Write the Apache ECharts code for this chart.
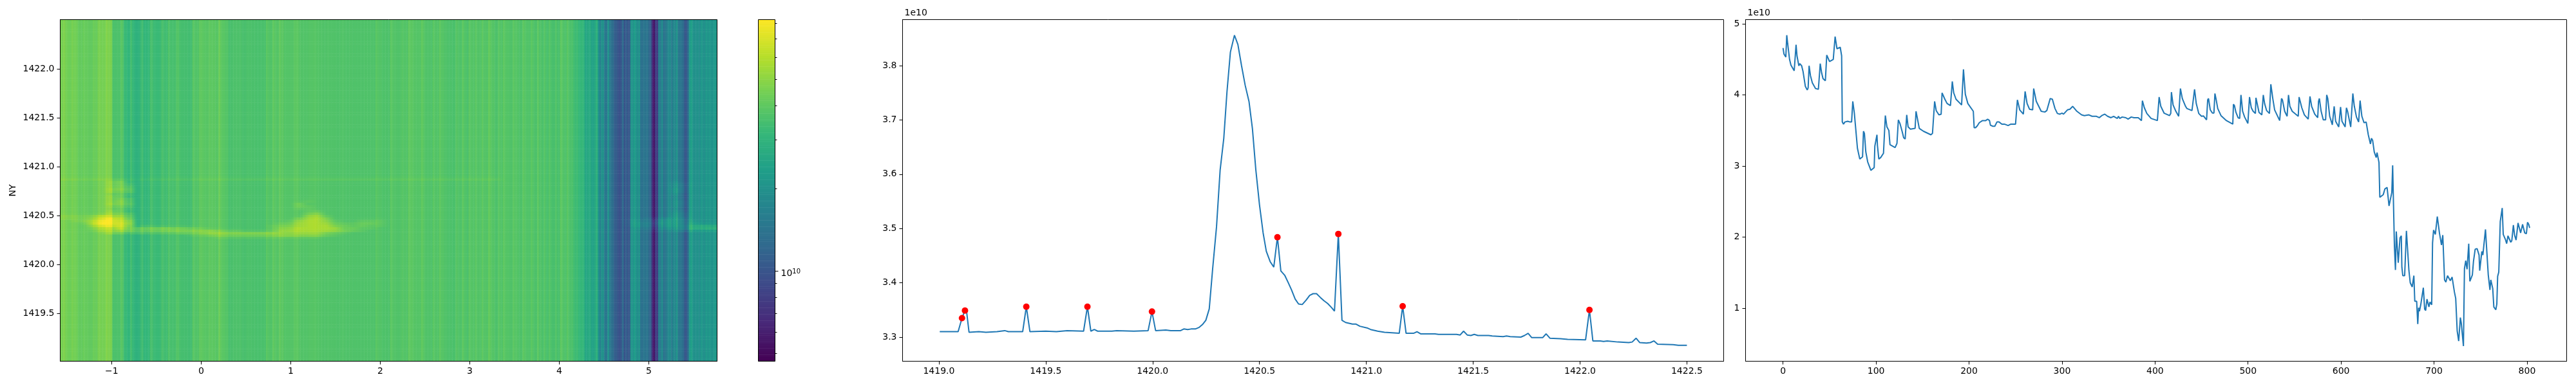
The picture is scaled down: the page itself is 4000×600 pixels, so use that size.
<!DOCTYPE html>
<html>
<head>
<meta charset="utf-8">
<style>html,body{margin:0;padding:0;background:#fff}#c{width:4000px;height:600px}</style>
<script src="https://cdn.jsdelivr.net/npm/echarts@6/dist/echarts.min.js"></script>
</head>
<body>
<div id="c"></div>
<script>
/* ---------- values ---------- */
const heatXTicks = [-1, 0, 1, 2, 3, 4, 5];
const nyTicks = [1419.5, 1420, 1420.5, 1421, 1421.5, 1422];
const spectrumXTicks = [1419, 1419.5, 1420, 1420.5, 1421, 1421.5, 1422, 1422.5];
const spectrumYTicks = [3.3, 3.4, 3.5, 3.6, 3.7, 3.8];
const indexXTicks = [0, 100, 200, 300, 400, 500, 600, 700, 800];
const indexYTicks = [1, 2, 3, 4, 5];
const colorbarMinorTicks = [5e9, 6e9, 7e9, 8e9, 9e9, 2e10, 3e10, 4e10, 5e10, 6e10, 7e10, 8e10];
const colorbarMajorTicks = [1e10];

/* middle panel: [NY, value in 1e10] */
const spectrum = [[1419.004,3.31],[1419.09,3.31],[1419.108,3.335],[1419.122,3.349],[1419.129,3.349],[1419.141,3.309],[1419.187,3.31],[1419.22,3.309],[1419.272,3.31],[1419.308,3.312],[1419.325,3.31],[1419.392,3.31],[1419.409,3.356],[1419.426,3.31],[1419.5,3.311],[1419.55,3.31],[1419.6,3.312],[1419.677,3.311],[1419.695,3.356],[1419.711,3.311],[1419.727,3.314],[1419.743,3.311],[1419.809,3.311],[1419.832,3.312],[1419.912,3.311],[1419.979,3.312],[1419.997,3.347],[1420.014,3.312],[1420.062,3.313],[1420.085,3.312],[1420.131,3.312],[1420.146,3.315],[1420.164,3.314],[1420.18,3.315],[1420.2,3.315],[1420.218,3.318],[1420.233,3.323],[1420.249,3.331],[1420.265,3.352],[1420.281,3.426],[1420.299,3.503],[1420.316,3.608],[1420.333,3.666],[1420.348,3.752],[1420.364,3.825],[1420.383,3.856],[1420.399,3.839],[1420.416,3.8],[1420.433,3.764],[1420.451,3.734],[1420.467,3.684],[1420.483,3.608],[1420.5,3.544],[1420.517,3.492],[1420.532,3.458],[1420.55,3.439],[1420.567,3.429],[1420.584,3.484],[1420.6,3.422],[1420.618,3.414],[1420.635,3.4],[1420.65,3.387],[1420.667,3.37],[1420.683,3.361],[1420.7,3.36],[1420.718,3.368],[1420.735,3.377],[1420.751,3.38],[1420.767,3.38],[1420.785,3.373],[1420.802,3.367],[1420.819,3.362],[1420.836,3.355],[1420.851,3.348],[1420.869,3.49],[1420.886,3.331],[1420.903,3.327],[1420.935,3.324],[1420.952,3.324],[1420.97,3.32],[1421.003,3.317],[1421.02,3.314],[1421.053,3.311],[1421.085,3.309],[1421.154,3.307],[1421.17,3.357],[1421.186,3.307],[1421.221,3.307],[1421.237,3.31],[1421.254,3.306],[1421.321,3.306],[1421.338,3.305],[1421.387,3.305],[1421.422,3.305],[1421.439,3.304],[1421.455,3.311],[1421.472,3.304],[1421.489,3.303],[1421.505,3.305],[1421.522,3.303],[1421.572,3.303],[1421.589,3.302],[1421.64,3.301],[1421.656,3.302],[1421.673,3.301],[1421.723,3.3],[1421.74,3.303],[1421.757,3.307],[1421.774,3.299],[1421.825,3.299],[1421.841,3.306],[1421.859,3.298],[1421.909,3.297],[1421.942,3.296],[1422.026,3.295],[1422.044,3.35],[1422.06,3.293],[1422.095,3.293],[1422.11,3.292],[1422.127,3.293],[1422.177,3.291],[1422.228,3.29],[1422.244,3.291],[1422.262,3.298],[1422.279,3.29],[1422.311,3.289],[1422.329,3.29],[1422.346,3.293],[1422.363,3.287],[1422.436,3.286],[1422.46,3.285],[1422.5,3.285]];

const peaks = [[1419.108,3.335],[1419.122,3.349],[1419.409,3.356],[1419.695,3.356],[1419.997,3.347],[1420.584,3.484],[1420.869,3.49],[1421.17,3.357],[1422.044,3.35]];

/* right panel: [index, value in 1e10] */
const profile = [[0,4.66],[1,4.575],[3,4.533],[4,4.84],[5,4.72],[7,4.5],[8.5,4.42],[12,4.34],[14,4.706],[15,4.55],[17,4.41],[18,4.44],[20,4.41],[21.5,4.33],[24,4.12],[26,4.07],[27,4.1],[28,4.41],[29.5,4.27],[31.5,4.17],[35,4.09],[38,4.08],[40,4.44],[41.5,4.31],[43,4.23],[45.5,4.2],[47,4.56],[48,4.56],[50,4.47],[54,4.5],[56,4.82],[58,4.65],[61.5,4.67],[63,4.55],[63.7,3.62],[65,3.59],[66.5,3.62],[69.5,3.63],[70.5,3.645],[72,3.62],[73.7,3.62],[75,3.91],[76.7,3.74],[80,3.25],[82.5,3.1],[85.5,3.13],[86.5,3.49],[87.5,3.46],[89,3.2],[91,3.06],[94.5,2.94],[98,2.98],[98.7,3.28],[99.7,3.28],[101,3.44],[101.5,3.29],[103,3.1],[105,3.12],[108,3.18],[110,3.71],[111.7,3.55],[113.8,3.5],[115,3.3],[120.5,3.26],[122.5,3.32],[124,3.65],[125.7,3.6],[128,3.49],[129.7,3.4],[131.3,3.38],[133,3.72],[134.5,3.55],[137,3.52],[142,3.53],[143,3.77],[144,3.77],[146.5,3.53],[151,3.49],[159,3.44],[160.7,3.46],[163,3.91],[164.7,3.78],[167.6,3.72],[170,3.73],[171,4.03],[172,4.03],[174,3.94],[176.4,3.88],[180,3.85],[182,4.19],[183.5,4.03],[186,3.94],[192,3.86],[194,4.36],[196,4.01],[198.7,3.88],[204.6,3.77],[205.5,3.54],[207,3.54],[208.8,3.565],[211,3.61],[214.5,3.64],[218,3.64],[220,3.66],[222,3.64],[223,3.575],[225.6,3.56],[227.7,3.56],[230,3.62],[232.3,3.62],[235.3,3.59],[238,3.59],[242,3.57],[245,3.59],[250,3.59],[252,3.93],[254.5,3.79],[258.4,3.73],[260.3,4.05],[262.4,3.88],[265,3.8],[268.4,3.79],[269.5,4.09],[272.3,3.91],[277.6,3.77],[281.5,3.76],[283.6,3.78],[287.3,3.95],[289.6,3.94],[292.4,3.81],[295,3.74],[297.7,3.73],[300,3.745],[301.6,3.73],[305.8,3.79],[308.5,3.8],[311.5,3.84],[316,3.77],[321,3.72],[324,3.71],[328.9,3.72],[332.3,3.7],[337,3.7],[340,3.68],[342.7,3.71],[346,3.73],[349,3.7],[352.6,3.68],[355.5,3.7],[359.4,3.67],[360.7,3.7],[362,3.67],[364.7,3.69],[368.6,3.68],[371,3.66],[374.4,3.69],[377.4,3.68],[382,3.68],[385.4,3.64],[386.4,3.92],[387.3,3.93],[388.5,3.82],[391.2,3.74],[395.8,3.67],[402.5,3.64],[404.4,3.97],[406.2,3.84],[409.7,3.745],[415.5,3.71],[416.9,3.74],[417.6,4.04],[419.4,3.86],[422.4,3.77],[425.4,3.7],[427.3,4.09],[429.3,3.95],[432.8,3.84],[434.2,3.81],[439.7,3.78],[440.9,3.79],[442.5,4.08],[444.3,3.88],[447,3.74],[450,3.7],[452,3.705],[455.4,3.65],[456.6,3.93],[457.5,3.95],[459.4,3.79],[461.7,3.745],[463.3,3.745],[464.4,4.02],[465.8,3.93],[467.4,3.81],[470.9,3.71],[476.7,3.64],[483.6,3.59],[484.3,3.87],[485.4,3.85],[487,3.755],[489.3,3.68],[491,3.67],[492.4,4.0],[494.2,3.77],[496.3,3.69],[499.8,3.6],[501.6,3.97],[503.5,3.82],[505.5,3.77],[507.9,3.74],[508.5,3.96],[509.7,3.95],[511.8,3.755],[514.8,3.72],[516.4,4.0],[517.8,3.88],[520,3.78],[523,3.74],[524.5,4.15],[526.6,3.95],[528.6,3.79],[534,3.64],[536,3.95],[537,3.93],[539.4,3.77],[542,3.7],[543.5,4.0],[545,3.84],[547.5,3.77],[554,3.7],[554.9,3.97],[556,3.98],[557.8,3.82],[560.6,3.72],[564.7,3.66],[566.6,3.98],[568.4,3.84],[571.7,3.73],[574.9,3.68],[575.8,3.91],[576.7,3.95],[578.6,3.77],[580.9,3.65],[583.4,3.65],[584.6,4.0],[585.7,3.95],[587.8,3.7],[590.6,3.58],[592.6,3.84],[594.2,3.63],[597.5,3.55],[599.5,3.83],[601,3.63],[604.4,3.55],[605.8,3.82],[607,3.77],[610.4,3.55],[612.7,4.02],[614.3,3.84],[616.6,3.69],[618.9,3.62],[620.5,3.92],[622.4,3.7],[624.7,3.61],[627,3.62],[629.3,3.44],[631.6,3.31],[632.7,3.39],[634,3.36],[635.7,3.2],[637.8,3.12],[638.7,3.19],[640.8,3.05],[641.7,2.56],[643,2.56],[645.4,2.6],[647.2,2.68],[649.5,2.7],[651.6,2.44],[652.8,2.45],[654.6,2.63],[655.5,3.01],[656.7,3.01],[657.4,1.87],[658.5,1.54],[659.4,2.08],[661.5,1.64],[663.4,1.99],[664.8,2.02],[665.4,1.58],[666.4,1.46],[668.4,1.46],[670.3,2.09],[671.4,2.08],[673,1.53],[674.4,1.36],[676.5,1.3],[678.3,1.46],[679.3,1.1],[681.3,1.1],[682.5,0.78],[683.4,1.01],[684.3,0.96],[685.7,1.05],[686.9,1.06],[688.5,1.29],[689.9,0.99],[691,0.97],[692.4,1.13],[693.5,1.14],[694.5,1.02],[695.6,1.09],[697.5,1.05],[698.4,1.92],[699.5,2.1],[701.4,2.04],[703.5,2.29],[705.8,2.06],[708,1.89],[709.4,2.03],[711.3,1.4],[712.7,1.37],[714.5,1.46],[717.5,1.39],[719.4,1.44],[721.9,1.23],[723.3,1.14],[724.9,0.68],[726.5,0.54],[728.3,0.87],[729.3,0.79],[730.6,0.78],[731.6,0.47],[732.7,1.56],[734.1,1.67],[735.5,1.55],[737.3,1.91],[738.5,1.38],[741.2,1.47],[742.4,1.66],[743.5,1.65],[744.2,1.83],[746.3,1.84],[748.4,1.75],[749.1,1.53],[751.4,1.8],[752.5,1.75],[755.3,2.11],[758.3,1.47],[760.1,1.26],[761,1.4],[763.1,1.28],[764.3,1.02],[766.4,0.98],[767.5,1.06],[768.4,1.45],[769.6,1.51],[771.2,2.22],[773.3,2.41],[774.4,2.04],[776.7,1.97],[778.1,1.91],[779.5,2.02],[782.5,1.93],[783.6,1.95],[785.3,2.17],[786.6,2.03],[788.2,1.96],[790.3,2.2],[793.1,2.06],[795.2,2.18],[797.5,2.06],[799.3,2.05],[800.5,2.21],[801.8,2.18],[802.8,2.13]];

/* left panel: brightening above the column level, one row per NY value,
   one digit per 0.1 of the horizontal axis from -1.6 to 5.8 (each digit is 0.03 decades) */
const liftRowStart = 1420.25;
const liftRowStep = 0.025;
const liftColStart = -1.6;
const liftColStep = 0.1;
const liftRows = [
"0000000000 0000000000 0000000000 0000000000 0000000000 0000000000 0000000000 00000", /* 1420.250 */
"0000000000 0000000011 1111111111 0000000000 0000000000 0000000000 0000000000 00000",
"0000000000 0000011233 3333344444 2100000000 0000000000 0000000000 0000000000 00000",
"0000013323 2222333444 4444444555 3210000000 0000000000 0000000000 0000000000 00000",
"0000134654 4444443321 1000145666 6532100000 0000000000 0000000000 0000001112 32222", /* 1420.350 */
"0000245854 4443321000 0000134666 6522110000 0000000000 0000000000 0000012233 55555",
"0000478960 1000000000 0000123566 6321211000 0000000000 0000000000 0000123344 54433",
"0001699970 0000000000 0000012566 5211221000 0000000000 0000000000 0000123444 42000",
"0012589860 0000000000 0000001466 4100111000 0000000000 0000000000 0000112344 41000", /* 1420.450 */
"1111368740 0000000000 0000000256 3000000000 0000000000 0000000000 0000001124 30000",
"1111245530 0000000000 0000000045 1000000000 0000000000 0000000000 0000000003 20000",
"0000003320 0000000000 0000000023 0000000000 0000000000 0000000000 0000000003 20000",
"0000002200 0000000000 0000000011 0000000000 0000000000 0000000000 0000000002 10000", /* 1420.550 */
"0000001210 0000000000 0000000110 0000000000 0000000000 0000000000 0000000001 00000",
"0000002320 0000000000 0000000210 0000000000 0000000000 0000000000 0000000002 10000",
"0000003430 0000000000 0000000200 0000000000 0000000000 0000000000 0000000002 10000",
"0000002420 0000000000 0000000010 0000000000 0000000000 0000000000 0000000002 10000", /* 1420.650 */
"0000002320 0000000000 0000000000 0000000000 0000000000 0000000000 0000000001 00000",
"0000002200 0000000000 0000000000 0000000000 0000000000 0000000000 0000000001 00000",
"0000001210 0000000000 0000000000 0000000000 0000000000 0000000000 0000000002 00000",
"0000003330 0000000000 0000000000 0000000000 0000000000 0000000000 0000000003 10000", /* 1420.750 */
"0000003430 0000000000 0000000000 0000000000 0000000000 0000000000 0000000003 10000",
"0000002320 0000000000 0000000000 0000000000 0000000000 0000000000 0000000002 10000",
"0000002310 0000000000 0000000000 0000000000 0000000000 0000000000 0000000002 10000",
"0000002300 0000000000 0000000000 0000000000 0000000000 0000000000 0000000001 00000", /* 1420.850 */
"1111111111 1111111111 1111111111 1111111111 1111111111 0000000000 0000000000 00000",
"0000000000 0000000000 0000000000 0000000000 0000000000 0000000000 0000000000 00000"
];
const liftPerDigit = 0.03;

/* ---------- ranges and styling ---------- */
const heatX = [-1.574, 5.762], heatY = [1419.009, 1422.506];
const logRange = [9.671, 10.916];
const viridis = ['#440154','#482878','#3e4989','#31688e','#26828e','#1f9e89','#35b779','#6ece58','#b5de2b','#fde725'];
const profileLength = 804, colBins = 402, rowBins = 140, rampSteps = 160;
const fontFamily = '"DejaVu Sans", sans-serif';
const text = {color:'#000', fontFamily, fontSize:14};

/* ---------- heat-map cells built from the arrays above ---------- */
function nearestProfile(idx){
  let best = profile[0];
  for (const p of profile) if (Math.abs(p[0]-idx) < Math.abs(best[0]-idx)) best = p;
  return best[1];
}
const liftGrid = liftRows.map(r => r.replace(/ /g,'').split('').map(Number));
function liftAt(x, y){
  const fy = (y-liftRowStart)/liftRowStep, fx = (x-liftColStart)/liftColStep;
  const r0 = Math.floor(fy), c0 = Math.floor(fx);
  if (r0 < 0 || r0 >= liftGrid.length-1) return 0;
  const c1 = Math.min(c0+1, liftGrid[0].length-1), ty = fy-r0, tx = fx-c0;
  const a = liftGrid[r0][c0]*(1-tx)+liftGrid[r0][c1]*tx;
  const b = liftGrid[r0+1][c0]*(1-tx)+liftGrid[r0+1][c1]*tx;
  return (a*(1-ty)+b*ty)*liftPerDigit;
}
const heatCells = [];
for (let c=0;c<colBins;c++){
  const idx = (c+0.5)*profileLength/colBins;
  const x = heatX[0]+(c+0.5)/colBins*(heatX[1]-heatX[0]);
  const base = Math.log10(nearestProfile(idx)*1e10);
  for (let r=0;r<rowBins;r++){
    const y = heatY[0]+(r+0.5)/rowBins*(heatY[1]-heatY[0]);
    const v = Math.min(logRange[1], Math.max(logRange[0], base+liftAt(x,y)));
    heatCells.push([c,r,v]);
  }
}
const rampCells = [];
for (let i=0;i<rampSteps;i++) rampCells.push([0,i,logRange[0]+(i+0.5)/rampSteps*(logRange[1]-logRange[0])]);
const seq = n => Array.from({length:n},(_,i)=>i);

/* ---------- axes ---------- */
const valueAxis = (min,max,ticks,fmt,extra) => Object.assign({
  type:'value', min, max, scale:true, z:6,
  splitLine:{show:false},
  axisLine:{show:true,onZero:false,lineStyle:{color:'#000',width:1}},
  axisTick:{show:true,inside:false,length:5,lineStyle:{color:'#000',width:1},customValues:ticks},
  axisLabel:Object.assign({margin:9,customValues:ticks,formatter:fmt},text)
},extra||{});
const fix1 = v => v.toFixed(1);
const int0 = v => String(Math.round(v)).replace('-','\u2212');
const hiddenCat = (n,gridIndex) => ({type:'category',gridIndex,show:false,data:seq(n),boundaryGap:true});
const name1e10 = {name:'1e10',nameLocation:'end',nameGap:3,nameTextStyle:{color:'#000',fontFamily,fontSize:14,align:'left',padding:[0,0,0,3]}};
const box = {show:true,backgroundColor:'transparent',borderColor:'#000',borderWidth:1,z:5};

const option = {
  animation:false,
  backgroundColor:'#fff',
  grid:[
    Object.assign({left:93.5,top:30.5,width:1020,height:531},box),
    Object.assign({left:1177.5,top:30.5,width:26,height:531},box),
    Object.assign({left:1401.5,top:30.5,width:1275,height:531},box),
    Object.assign({left:2710.5,top:30.5,width:1275,height:531},box)
  ],
  xAxis:[
    valueAxis(heatX[0],heatX[1],heatXTicks,int0,{gridIndex:0}),
    valueAxis(1418.83,1422.672,spectrumXTicks,fix1,{gridIndex:2}),
    valueAxis(-40.3,842.6,indexXTicks,int0,{gridIndex:3}),
    hiddenCat(colBins,0),
    hiddenCat(1,1)
  ],
  yAxis:[
    valueAxis(heatY[0],heatY[1],nyTicks,fix1,{gridIndex:0,name:'NY',nameLocation:'middle',nameGap:66,nameRotate:90,nameTextStyle:{color:'#000',fontFamily,fontSize:14}}),
    valueAxis(3.2556,3.8847,spectrumYTicks,fix1,Object.assign({gridIndex:2},name1e10)),
    valueAxis(0.2567,5.059,indexYTicks,int0,Object.assign({gridIndex:3},name1e10)),
    hiddenCat(rowBins,0),
    hiddenCat(rampSteps,1),
    /* colour bar scale: positions are log10 of the value */
    {type:'value',gridIndex:1,position:'right',min:logRange[0],max:logRange[1],scale:true,z:6,
     splitLine:{show:false},axisLine:{show:false},
     axisTick:{show:true,inside:false,length:5,lineStyle:{color:'#000',width:1},customValues:colorbarMajorTicks.map(Math.log10)},
     axisLabel:{margin:9,padding:[8,0,0,0],customValues:colorbarMajorTicks.map(Math.log10),
       formatter:()=>'{a|10}{b|10}',
       rich:{a:{color:'#000',fontFamily,fontSize:14},b:{color:'#000',fontFamily,fontSize:10,verticalAlign:'top',padding:[0,0,5,0]}}}},
    {type:'value',gridIndex:1,position:'right',min:logRange[0],max:logRange[1],scale:true,z:6,
     splitLine:{show:false},axisLine:{show:false},axisLabel:{show:false},
     axisTick:{show:true,inside:false,length:3,lineStyle:{color:'#000',width:1},customValues:colorbarMinorTicks.map(Math.log10)}}
  ],
  visualMap:{type:'continuous',show:false,seriesIndex:[0,1],dimension:2,min:logRange[0],max:logRange[1],inRange:{color:viridis}},
  series:[
    {type:'heatmap',xAxisIndex:3,yAxisIndex:3,data:heatCells,progressive:0,z:1,itemStyle:{borderWidth:0},emphasis:{disabled:true}},
    {type:'heatmap',xAxisIndex:4,yAxisIndex:4,data:rampCells,progressive:0,z:1,itemStyle:{borderWidth:0},emphasis:{disabled:true}},
    {type:'line',xAxisIndex:1,yAxisIndex:1,data:spectrum,showSymbol:false,smooth:false,lineStyle:{color:'#1f77b4',width:2},itemStyle:{color:'#1f77b4'}},
    {type:'scatter',xAxisIndex:1,yAxisIndex:1,data:peaks,symbol:'circle',symbolSize:10,itemStyle:{color:'#ff0000',opacity:1},z:4},
    {type:'line',xAxisIndex:2,yAxisIndex:2,data:profile,showSymbol:false,smooth:false,lineStyle:{color:'#1f77b4',width:2},itemStyle:{color:'#1f77b4'}}
  ]
};
const chart = echarts.init(document.getElementById('c'),null,{renderer:'canvas'});
chart.setOption(option);
</script>
</body>
</html>
